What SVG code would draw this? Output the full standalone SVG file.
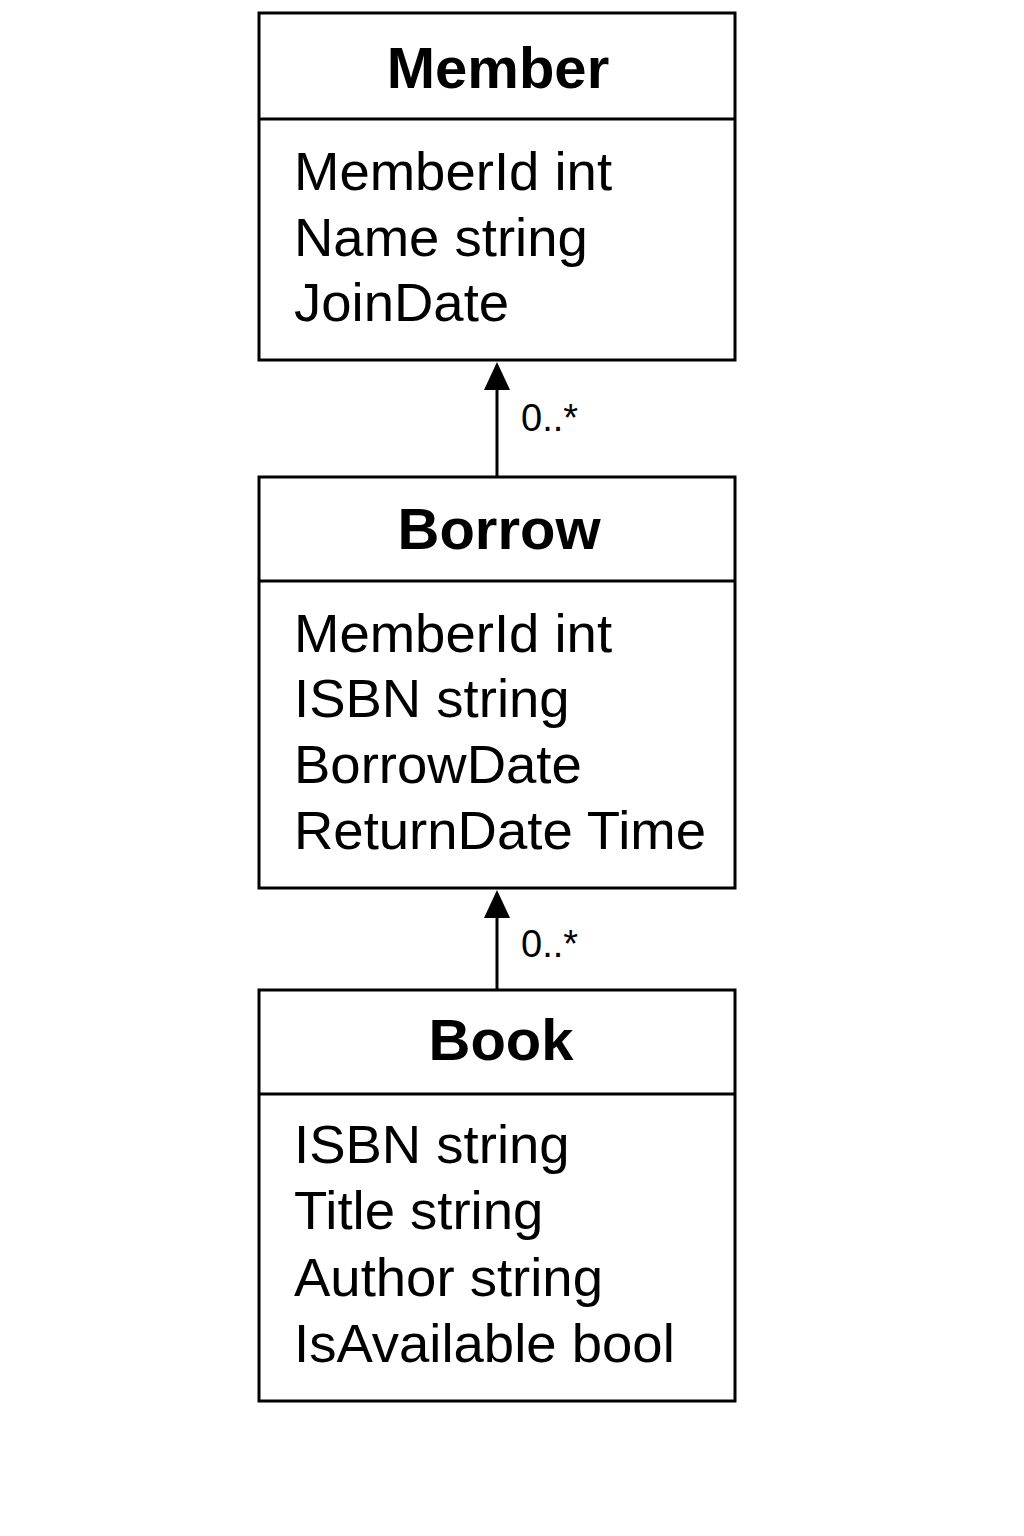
<svg xmlns="http://www.w3.org/2000/svg" width="1024" height="1536" viewBox="0 0 1024 1536">
<style>
.box{fill:#fff;stroke:#000;stroke-width:3}
.div{stroke:#000;stroke-width:3}
.title{font-family:"Liberation Sans",Arial,sans-serif;font-weight:bold;font-size:58px;text-anchor:middle}
.attr{font-family:"Liberation Sans",Arial,sans-serif;font-size:54.5px}
.mult{font-family:"Liberation Sans",Arial,sans-serif;font-size:38px}
.conn{stroke:#000;stroke-width:3;fill:none}
.head{fill:#000}
</style>
<rect width="1024" height="1536" fill="#fff"/>
<g id="member">
<rect class="box" x="259" y="13" width="476" height="347"/>
<line class="div" x1="259" y1="119" x2="735" y2="119"/>
<text class="title" x="498" y="88">Member</text>
<text class="attr" x="294" y="190">MemberId int</text>
<text class="attr" x="294" y="256">Name string</text>
<text class="attr" x="294" y="321">JoinDate</text>
</g>
<g id="borrow">
<rect class="box" x="259" y="477" width="476" height="411"/>
<line class="div" x1="259" y1="581" x2="735" y2="581"/>
<text class="title" x="499" y="549">Borrow</text>
<text class="attr" x="294" y="652">MemberId int</text>
<text class="attr" x="294" y="717">ISBN string</text>
<text class="attr" x="294" y="783">BorrowDate</text>
<text class="attr" x="294" y="849">ReturnDate Time</text>
</g>
<g id="book">
<rect class="box" x="259" y="990" width="476" height="411"/>
<line class="div" x1="259" y1="1094" x2="735" y2="1094"/>
<text class="title" x="501" y="1060">Book</text>
<text class="attr" x="294" y="1163">ISBN string</text>
<text class="attr" x="294" y="1229">Title string</text>
<text class="attr" x="294" y="1296">Author string</text>
<text class="attr" x="294" y="1362">IsAvailable bool</text>
</g>
<g id="connectors">
<line class="conn" x1="497" y1="476" x2="497" y2="388"/>
<polygon class="head" points="497,362 484,390 510,390"/>
<text class="mult" x="521" y="431">0..*</text>
<line class="conn" x1="497" y1="989" x2="497" y2="916"/>
<polygon class="head" points="497,890 484,918 510,918"/>
<text class="mult" x="521" y="957">0..*</text>
</g>
</svg>
